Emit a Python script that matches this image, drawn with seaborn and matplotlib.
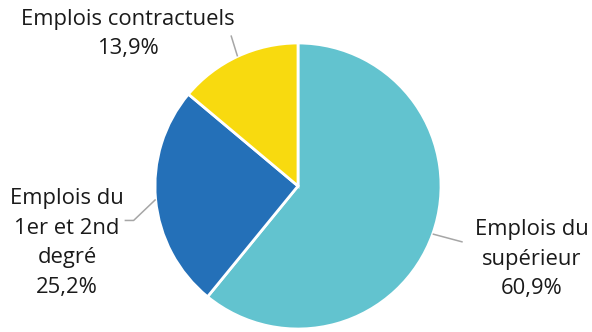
import numpy as np
import matplotlib
matplotlib.use("Agg")
import matplotlib.pyplot as plt
import seaborn as sns

categories = ["Emplois du\nsupérieur", "Emplois du\n1er et 2nd\ndegré", "Emplois contractuels"]
shares = [60.9, 25.2, 13.9]
colors = ["#62C3CF", "#2470B8", "#F8DA0F"]

sns.set_theme(style="white")
plt.rcParams["font.family"] = ["Open Sans", "DejaVu Sans"]

W, H = 592, 332
fig = plt.figure(figsize=(W / 100, H / 100), dpi=100)
ax = fig.add_axes([0, 0, 1, 1])

cx, cy, r = 298, H - 186, 143
palette = sns.color_palette(colors)
wedges, _ = ax.pie(shares, colors=palette, startangle=90, counterclock=False,
                   center=(cx, cy), radius=r, frame=True,
                   wedgeprops=dict(edgecolor="white", linewidth=2))
ax.set_xlim(0, W)
ax.set_ylim(0, H)
ax.set_aspect("equal")
ax.axis("off")

def fmt(v):
    return f"{v:.1f}".replace(".", ",") + "%"

# label placement: text centre, leader elbow offset from the rim, horizontal tail
label_pos = [
    ((532, H - 259), (30, -8), 0),
    ((67, H - 243), (-22, -21), -9),
    ((128, H - 34), (-6.5, 21), 0),
]
for w, cat, v, ((tx, ty), (dx, dy), tail) in zip(wedges, categories, shares, label_pos):
    mid = np.deg2rad((w.theta1 + w.theta2) / 2)
    x0, y0 = cx + r * np.cos(mid), cy + r * np.sin(mid)
    xs, ys = [x0, x0 + dx], [y0, y0 + dy]
    if tail:
        xs.append(x0 + dx + tail)
        ys.append(y0 + dy)
    ax.plot(xs, ys, color="#A6A6A6", lw=1.1, solid_capstyle="butt")
    ax.text(tx, ty, f"{cat}\n{fmt(v)}", ha="center", va="center",
            fontsize=15.8, color="#1A1A1A", linespacing=1.53)

fig.savefig("out.png", dpi=100)
